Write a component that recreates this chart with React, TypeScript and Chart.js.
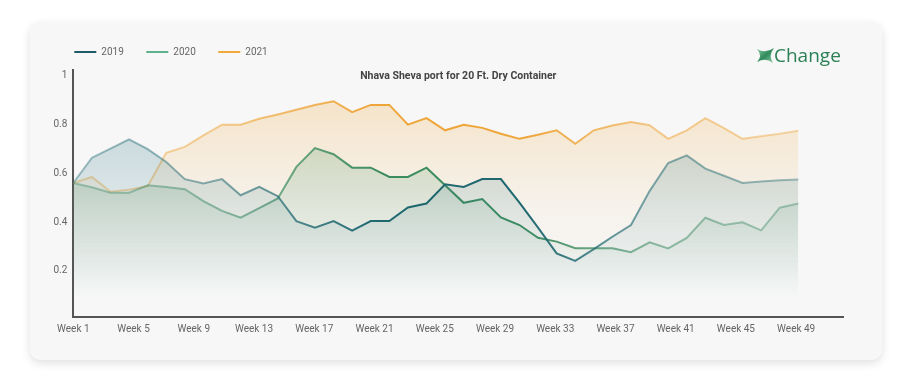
import React, { useEffect, useRef } from 'react';
import { Chart, registerables } from 'chart.js';

Chart.register(...registerables);

// ---- data ----
const seriesNames = ['2019', '2020', '2021'];
const values2019 = [
  0.560, 0.663, 0.701, 0.739, 0.699, 0.646, 0.576, 0.558, 0.576, 0.510,
  0.544, 0.506, 0.404, 0.377, 0.404, 0.365, 0.404, 0.404, 0.460, 0.476,
  0.555, 0.544, 0.576, 0.576, 0.480, 0.377, 0.272, 0.241, 0.289, 0.340,
  0.388, 0.527, 0.642, 0.673, 0.619, 0.590, 0.560, 0.566, 0.571, 0.574,
];
const values2020 = [
  0.560, 0.543, 0.520, 0.520, 0.551, 0.544, 0.535, 0.486, 0.446, 0.418,
  0.457, 0.497, 0.626, 0.703, 0.678, 0.623, 0.623, 0.585, 0.585, 0.623,
  0.551, 0.479, 0.494, 0.419, 0.388, 0.336, 0.320, 0.293, 0.293, 0.293,
  0.277, 0.317, 0.292, 0.335, 0.418, 0.388, 0.399, 0.366, 0.459, 0.476,
];
const values2021 = [
  0.560, 0.585, 0.524, 0.533, 0.547, 0.684, 0.708, 0.755, 0.799, 0.799,
  0.823, 0.841, 0.860, 0.880, 0.895, 0.850, 0.880, 0.880, 0.799, 0.826,
  0.776, 0.799, 0.786, 0.762, 0.741, 0.758, 0.776, 0.721, 0.776, 0.796,
  0.810, 0.797, 0.741, 0.776, 0.826, 0.785, 0.741, 0.752, 0.762, 0.774,
];
const tickWeeks = [1, 5, 9, 13, 17, 21, 25, 29, 33, 37, 41, 45, 49];
const yTicks = [0.2, 0.4, 0.6, 0.8, 1];
const chartTitle = 'Nhava Sheva port for 20 Ft. Dry Container';

// ---- styles ----
const lineRGB = ['31,104,112', '61,140,95', '238,165,58'];
const fillRGB = ['40,115,130', '60,140,95', '240,165,50'];
const legendColors = ['#1f5a68', '#5cb38b', '#f2a93b'];
const fillStops = [
  [[0, 0.3], [0.92, 0]],
  [[0, 0.3], [0.92, 0]],
  [[0, 0.28], [0.55, 0.06], [0.85, 0]],
];
const lineStops = [[0, 0.4], [0.2, 0.52], [0.42, 1], [0.62, 1], [0.8, 0.55], [1, 0.4]];

function lineGradient(chart: any, i: number) {
  const { ctx, chartArea, scales } = chart;
  if (!chartArea || !scales.xs) return `rgb(${lineRGB[i]})`;
  const x0 = scales.xs.getPixelForValue(0);
  const x1 = scales.xs.getPixelForValue(values2019.length - 1);
  const g = ctx.createLinearGradient(x0, 0, x1, 0);
  lineStops.forEach(([t, a]) => g.addColorStop(t, `rgba(${lineRGB[i]},${a})`));
  return g;
}

function fillGradient(chart: any, i: number) {
  const { ctx, chartArea } = chart;
  if (!chartArea) return `rgba(${fillRGB[i]},0.2)`;
  const g = ctx.createLinearGradient(0, chartArea.top, 0, chartArea.bottom);
  fillStops[i].forEach(([t, a]) => g.addColorStop(t, `rgba(${fillRGB[i]},${a})`));
  return g;
}

const innerTitle = {
  id: 'innerTitle',
  afterDraw(chart: any) {
    const { ctx, chartArea } = chart;
    ctx.save();
    ctx.font = 'bold 10.5px Roboto';
    ctx.fillStyle = '#444';
    ctx.textAlign = 'center';
    ctx.textBaseline = 'middle';
    ctx.fillText(chartTitle, (chartArea.left + chartArea.right) / 2, chartArea.top + 6.5);
    ctx.restore();
  },
};

const legendGap = {
  id: 'legendGap',
  beforeInit(chart: any) {
    const legend = chart.legend;
    if (!legend) return;
    const orig = legend.fit;
    legend.fit = function () {
      orig.call(this);
      this.height += 3;
    };
  },
};

function XIcon() {
  return (
    <svg width="17" height="15" viewBox="0 0 17 15" style={{ display: 'block' }}>
      <defs>
        <linearGradient id="xg" x1="0" y1="0" x2="1" y2="1">
          <stop offset="0" stopColor="#8fd0a8" />
          <stop offset="0.5" stopColor="#2f8a5b" />
          <stop offset="1" stopColor="#8fd0a8" />
        </linearGradient>
      </defs>
      <path d="M0,1 Q8.5,6 17,0 Q11,7.5 16,15 Q8.5,9 0,14 Q6,7.5 0,1 Z" fill="url(#xg)" />
    </svg>
  );
}

export default function App() {
  const ref = useRef<HTMLCanvasElement>(null);

  useEffect(() => {
    if (!ref.current) return;
    const seriesValues = [values2019, values2020, values2021];
    const chart = new Chart(ref.current, {
      type: 'line',
      data: {
        labels: values2019.map((_, i) => i),
        datasets: seriesNames.map((name, i) => ({
          label: name,
          data: seriesValues[i],
          xAxisID: 'xs',
          yAxisID: 'y',
          borderColor: (c: any) => lineGradient(c.chart, i),
          backgroundColor: (c: any) => fillGradient(c.chart, i),
          borderWidth: 2,
          fill: 'origin',
          pointRadius: 0,
          pointHoverRadius: 0,
          tension: 0,
        })),
      },
      options: {
        animation: false,
        responsive: false,
        events: [],
        font: { family: 'Roboto', size: 10 },
        layout: { padding: { left: 21.8, right: 38.7, top: 2.5, bottom: 24.7 } },
        plugins: {
          tooltip: { enabled: false },
          title: { display: false },
          legend: {
            display: true,
            position: 'top',
            align: 'start',
            labels: {
              boxWidth: 22,
              boxHeight: 2,
              padding: 22.5,
              color: '#666',
              font: { family: 'Roboto', size: 10 },
              generateLabels: (chart: any) =>
                chart.data.datasets.map((ds: any, i: number) => ({
                  text: ds.label,
                  fillStyle: legendColors[i],
                  strokeStyle: legendColors[i],
                  lineWidth: 0,
                  hidden: false,
                  datasetIndex: i,
                  fontColor: '#666',
                })),
            },
          },
        },
        scales: {
          xs: {
            type: 'linear',
            display: false,
            min: 0,
            max: 41.42,
          },
          x: {
            type: 'linear',
            position: 'bottom',
            min: 1,
            max: 52.13,
            grid: { display: false, drawTicks: false },
            border: { display: true, color: '#555', width: 2 },
            afterBuildTicks: (s: any) => {
              s.ticks = tickWeeks.map((v) => ({ value: v }));
            },
            afterFit: (s: any) => {
              s.height = 18;
            },
            ticks: {
              padding: 6,
              color: '#666',
              font: { family: 'Roboto', size: 10 },
              maxRotation: 0,
              autoSkip: false,
              callback: (v: any) => `Week ${v}`,
            },
          },
          y: {
            type: 'linear',
            position: 'left',
            min: 0.01,
            max: 1.023,
            grid: { display: false, drawTicks: false },
            border: { display: true, color: '#555', width: 2 },
            afterBuildTicks: (s: any) => {
              s.ticks = yTicks.map((v) => ({ value: v }));
            },
            afterFit: (s: any) => {
              s.width = 21.5;
            },
            ticks: {
              padding: 6,
              color: '#666',
              font: { family: 'Roboto', size: 10 },
              callback: (v: any) => String(v),
            },
          },
        },
      },
      plugins: [innerTitle, legendGap],
    } as any);
    return () => chart.destroy();
  }, []);

  return (
    <div
      style={{
        position: 'absolute',
        left: 30,
        top: 22,
        width: 852,
        height: 338,
        background: '#f7f7f7',
        borderRadius: 10,
        boxShadow: '0 3px 10px rgba(0,0,0,0.13)',
      }}
    >
      <canvas ref={ref} width={852} height={338} style={{ position: 'absolute', left: 0, top: 0 }} />
      <div
        style={{
          position: 'absolute',
          left: 727,
          top: 23,
          display: 'flex',
          alignItems: 'center',
          fontFamily: '"Open Sans", sans-serif',
          fontSize: 19,
          color: '#2c8056',
          lineHeight: '20px',
        }}
      >
        <XIcon />
        <span style={{ marginLeft: 0 }}>Change</span>
      </div>
    </div>
  );
}
